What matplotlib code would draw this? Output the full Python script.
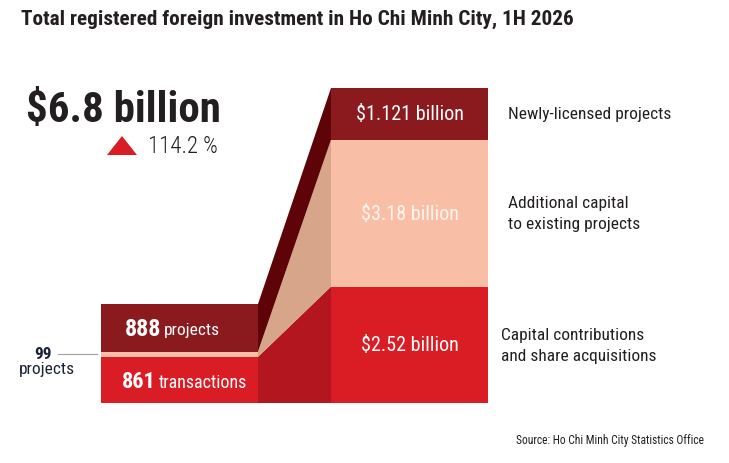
import matplotlib
matplotlib.use('Agg')
import numpy as np
import matplotlib.pyplot as plt

#----- Data (bottom segment first)
left_counts = [861, 99, 888]
left_units = ['transactions', 'projects', 'projects']
right_values = [2.52, 3.18, 1.121]
right_labels = ['$2.52 billion', '$3.18 billion', '$1.121 billion']
right_notes = ['Capital contributions\nand share acquisitions',
               'Additional capital\nto existing projects',
               'Newly-licensed projects']
total_label = '$6.8 billion'
growth_label = '114.2 %'
title = 'Total registered foreign investment in Ho Chi Minh City, 1H 2026'
source = 'Source: Ho Chi Minh City Statistics Office'

#----- Style
FONT = ['Roboto Condensed', 'DejaVu Sans']
INK = '#231f20'
seg_colors = ['#da1c24', '#f8bfa6', '#8b1a1e']
link_colors = ['#b3161e', '#d6a58a', '#5e0307']
text_colors = ['white', '#fff4ee', 'white']
plt.rcParams['font.family'] = FONT

W, H = 729, 464
fig = plt.figure(figsize=(W / 100, H / 100), dpi=100)
ax = fig.add_axes([0, 0, 1, 1])
ax.set_xlim(0, W)
ax.set_ylim(H, 0)
ax.axis('off')

# layout in pixel units
base = 404
lx0, lx1 = 101, 258
rx0, rx1 = 331, 488
left_px = 99.0
right_px = 315.0

lh = np.array(left_counts) / sum(left_counts) * left_px
rh = np.array(right_values) / sum(right_values) * right_px
l_edges = base - np.concatenate([[0], np.cumsum(lh)])
r_edges = base - np.concatenate([[0], np.cumsum(rh)])

# stacked bars
ax.bar([(lx0 + lx1) / 2] * 3, -lh, width=lx1 - lx0, bottom=l_edges[:-1],
       color=seg_colors, linewidth=0)
ax.bar([(rx0 + rx1) / 2] * 3, -rh, width=rx1 - rx0, bottom=r_edges[:-1],
       color=seg_colors, linewidth=0)

# connectors between the two stacks
for i in range(3):
    ax.fill([lx1, rx0, rx0, lx1],
            [l_edges[i + 1], r_edges[i + 1], r_edges[i], l_edges[i]],
            color=link_colors[i], linewidth=0)

# right bar labels + notes
for i in range(3):
    yc = (r_edges[i] + r_edges[i + 1]) / 2
    ax.text((rx0 + rx1) / 2, yc, right_labels[i], ha='center', va='center',
            fontsize=14.5, color=text_colors[i])
    nx = 501 if i == 0 else 508
    ax.text(nx, yc, right_notes[i], ha='left', va='center', fontsize=12.5,
            color=INK, linespacing=1.45)

# left bar labels (bold number + unit)
for i in (0, 2):
    yc = (l_edges[i] + l_edges[i + 1]) / 2
    xs = 156 if i == 0 else 161
    fs = 16 if i == 0 else 17.5
    ax.text(xs, yc + 1, str(left_counts[i]), ha='right', va='center',
            fontsize=fs, fontweight='bold', color='white')
    ax.text(xs + 3, yc + 2, left_units[i], ha='left', va='center',
            fontsize=13 if i == 0 else 12.5, color='white')

# small segment callout
yc = (l_edges[1] + l_edges[2]) / 2
ax.plot([58, 97], [yc, yc], color='#a0a0a0', lw=0.8)
ax.text(43, yc - 1, str(left_counts[1]), ha='center', va='center',
        fontsize=12.5, fontweight='bold', color='#1c2236')
ax.text(47, yc + 14, left_units[1], ha='center', va='center',
        fontsize=12.5, color='#1c2236')

# headline figures
ax.text(26, 111, total_label, ha='left', va='center', fontsize=31,
        fontweight='bold', color=INK)
ax.fill([107, 137, 122], [156, 156, 137], color=seg_colors[0], linewidth=0)
ax.text(148, 147, growth_label, ha='left', va='center', fontsize=16.5,
        fontweight='light', color=INK)

# title + source
ax.text(21, 19, title, ha='left', va='center', fontsize=15.3,
        fontweight='bold', color=INK)
ax.text(704, 441, source, ha='right', va='center', fontsize=8.3, color=INK)

fig.savefig('out.png', dpi=100)
plt.close(fig)
